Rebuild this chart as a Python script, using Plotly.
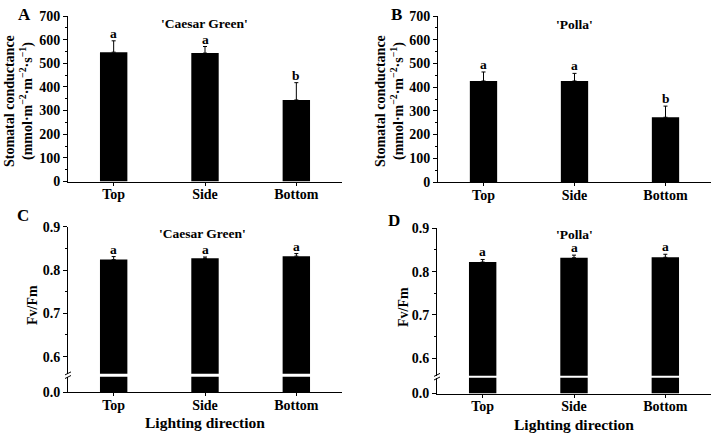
import plotly.graph_objects as go

# ---------------- data ----------------
categories = ["Top", "Side", "Bottom"]

gs_caesar = [547, 543, 345]
gs_caesar_err = [48, 28, 73]
gs_caesar_letters = ["a", "a", "b"]

gs_polla = [426, 426, 273]
gs_polla_err = [38, 32, 47]
gs_polla_letters = ["a", "a", "b"]

fv_caesar = [0.824, 0.827, 0.832]
fv_caesar_err = [0.007, 0.003, 0.006]
fv_caesar_letters = ["a", "a", "a"]

fv_polla = [0.822, 0.832, 0.833]
fv_polla_err = [0.006, 0.006, 0.007]
fv_polla_letters = ["a", "a", "a"]

gs_ticks = [0, 100, 200, 300, 400, 500, 600, 700]
fv_ticks = [0.6, 0.7, 0.8, 0.9]

# ---------------- layout helpers ----------------
W, H = 721, 438
FONT = "Liberation Serif"
TICK = 14


def px(x):
    return x / W


def py(y):
    return 1 - y / H


fig = go.Figure()


def bars(y, err, xa, ya, with_err=True):
    fig.add_trace(go.Bar(
        x=categories, y=y, xaxis=xa, yaxis=ya, width=0.3,
        marker=dict(color="black", line=dict(width=0)),
        error_y=dict(type="data", symmetric=False, array=err,
                     arrayminus=[0] * len(err), color="black",
                     thickness=1, width=2, visible=with_err),
        showlegend=False, hoverinfo="skip"))


bars(gs_caesar, gs_caesar_err, "x", "y")
bars(gs_polla, gs_polla_err, "x2", "y2")
bars(fv_caesar, fv_caesar_err, "x3", "y3")
bars(fv_caesar, fv_caesar_err, "x3", "y4", with_err=False)
bars(fv_polla, fv_polla_err, "x4", "y5")
bars(fv_polla, fv_polla_err, "x4", "y6", with_err=False)

tickfont = dict(family=FONT, size=TICK, color="black", weight="bold")

xcommon = dict(type="category", range=[-0.5, 2.5], showline=True,
               linecolor="black", linewidth=1, ticks="outside", ticklen=3,
               tickcolor="black", tickfont=tickfont, showgrid=False,
               zeroline=False, fixedrange=True, automargin=False,
               ticklabelstandoff=-3)
ycommon = dict(showline=True, linecolor="black", linewidth=1,
               ticks="outside", ticklen=4, tickcolor="black",
               tickfont=tickfont, showgrid=False, zeroline=False,
               fixedrange=True, automargin=False)
minor_gs = dict(ticks="outside", ticklen=2, dtick=50, tickcolor="black")
minor_fv = dict(ticks="outside", ticklen=2, dtick=0.05, tickcolor="black")

layout = dict(
    width=W, height=H,
    margin=dict(l=0, r=0, t=0, b=0, pad=0, autoexpand=False),
    paper_bgcolor="white", plot_bgcolor="white",
    xaxis=dict(xcommon, domain=[px(68), px(342)], anchor="y"),
    yaxis=dict(ycommon, domain=[py(181.5), py(16)], range=[0, 700],
               tickvals=gs_ticks, anchor="x", minor=minor_gs),
    xaxis2=dict(xcommon, domain=[px(438), px(711)], anchor="y2"),
    yaxis2=dict(ycommon, domain=[py(182), py(16)], range=[0, 700],
                tickvals=gs_ticks, anchor="x2", minor=minor_gs),
    xaxis3=dict(xcommon, domain=[px(68), px(342)], anchor="y4"),
    yaxis3=dict(ycommon, domain=[py(373.7), py(226.7)], range=[0.5605, 0.9],
                tickvals=fv_ticks, tickformat=".1f", anchor="x3", minor=minor_fv),
    yaxis4=dict(ycommon, domain=[py(392), py(376.7)], range=[0, 0.035],
                tickvals=[0], ticktext=["0.0"], anchor="x3"),
    xaxis4=dict(xcommon, domain=[px(437), px(711)], anchor="y6"),
    yaxis5=dict(ycommon, domain=[py(375.7), py(228.3)], range=[0.5596, 0.9],
                tickvals=fv_ticks, tickformat=".1f", anchor="x4", minor=minor_fv),
    yaxis6=dict(ycommon, domain=[py(393.5), py(377.7)], range=[0, 0.035],
                tickvals=[0], ticktext=["0.0"], anchor="x4"),
)
fig.update_layout(**layout)

ann = []


def text(x, y, s, size=TICK, angle=0, xanchor="center", yanchor="middle"):
    ann.append(dict(x=px(x), y=py(y), xref="paper", yref="paper", text=s,
                    showarrow=False, textangle=angle, xanchor=xanchor,
                    yanchor=yanchor,
                    font=dict(family=FONT, size=size, color="black")))


# significance letters
def letters(vals, errs, labs, xa, ya):
    for c, v, e, l in zip(categories, vals, errs, labs):
        ann.append(dict(x=c, y=v + e, xref=xa, yref=ya, text="<b>%s</b>" % l,
                        showarrow=False, yanchor="bottom", yshift=-2,
                        font=dict(family=FONT, size=13.5, color="black")))


letters(gs_caesar, gs_caesar_err, gs_caesar_letters, "x", "y")
letters(gs_polla, gs_polla_err, gs_polla_letters, "x2", "y2")
letters(fv_caesar, fv_caesar_err, fv_caesar_letters, "x3", "y3")
letters(fv_polla, fv_polla_err, fv_polla_letters, "x4", "y5")

# panel letters
text(24, 14, "<b>A</b>", size=17)
text(396, 14, "<b>B</b>", size=17)
text(23, 215, "<b>C</b>", size=17)
text(394, 220, "<b>D</b>", size=17)

# titles
text(204, 23, "<b>'Caesar Green'</b>", size=13.5)
text(574, 25, "<b>'Polla'</b>", size=13.5)
text(202, 233, "<b>'Caesar Green'</b>", size=13.5)
text(574, 234, "<b>'Polla'</b>", size=13.5)

# y titles
ytitle = ("<b>Stomatal conductance<br>(mmol·m<sup>−2</sup>·m<sup>−2</sup>·"
          "s<sup>−1</sup>)</b>")
text(19, 101, ytitle, size=14, angle=-90)
text(390, 101, ytitle, size=14, angle=-90)
text(32, 305, "<b>Fv/Fm</b>", size=14, angle=-90)
text(403, 307, "<b>Fv/Fm</b>", size=14, angle=-90)

# x titles
text(205, 422, "<b>Lighting direction</b>", size=15.5)
text(574, 424, "<b>Lighting direction</b>", size=15.5)

fig.update_layout(annotations=ann)

# axis break marks
shapes = []
for x0, yb in [(68, 375.2), (437, 376.7)]:
    for dy in (-1.8, 1.8):
        shapes.append(dict(type="line", xref="paper", yref="paper",
                           x0=px(x0 - 3), y0=py(yb + dy + 1.5),
                           x1=px(x0 + 3), y1=py(yb + dy - 1.5),
                           line=dict(color="black", width=1)))
fig.update_layout(shapes=shapes)

fig.write_html("out.html",
               config={"displayModeBar": False, "staticPlot": True},
               post_script="document.body.style.margin='0';"
                           "document.body.style.padding='0';")
